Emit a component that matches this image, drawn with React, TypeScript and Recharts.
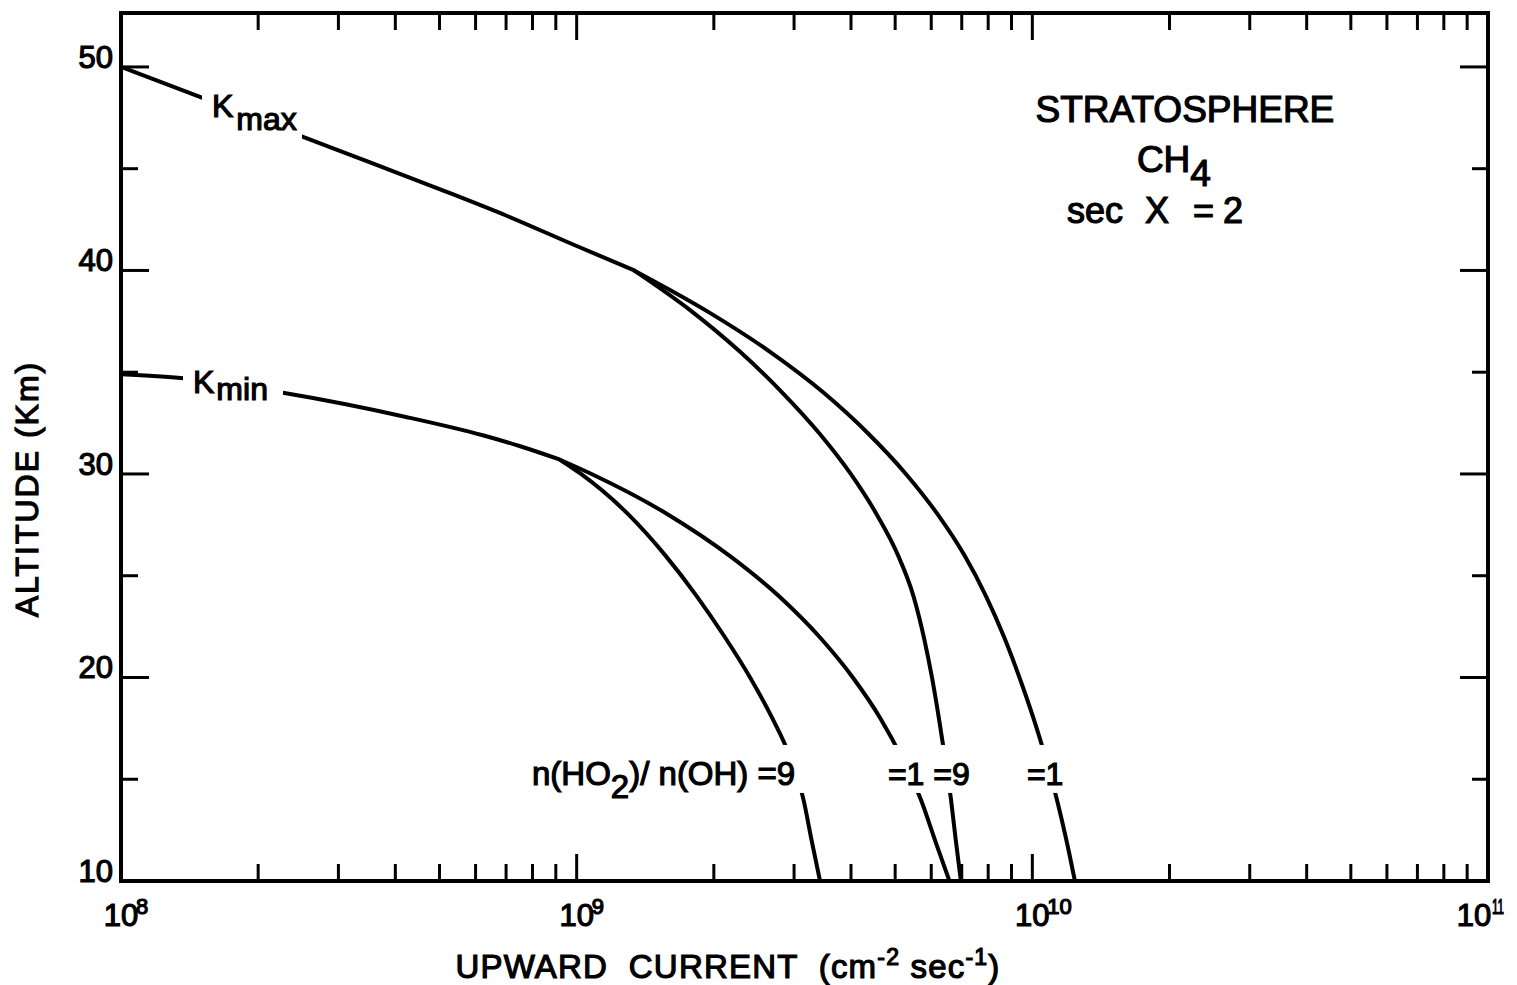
import { LineChart, Line, XAxis, YAxis, ReferenceDot, Label } from "recharts";

const FONT = '"Liberation Sans", Arial, sans-serif';

// upward current (cm^-2 sec^-1) against altitude (km)
const kmaxFlux = [1e8, 1.5e8, 2e8, 3e8, 5e8, 7e8, 1e9, 1.34e9];
const kmaxAlt = [50.0, 48.5, 47.4, 45.9, 44.0, 42.7, 41.2, 40.0];

// the two K_max branches, n(HO2)/n(OH) = 1 and = 9
const kmaxBranchAlt = [40, 38, 36, 34, 32, 30, 28, 26, 24, 22, 20, 18, 16, 14, 12, 10];
const kmaxR1Flux = [
  1.336e9, 1.932e9, 2.657e9, 3.48e9, 4.357e9, 5.279e9, 6.205e9, 7.096e9,
  7.911e9, 8.665e9, 9.37e9, 1.0056e10, 1.071e10, 1.132e10, 1.188e10, 1.24e10,
];
const kmaxR9Flux = [
  1.336e9, 1.785e9, 2.284e9, 2.826e9, 3.407e9, 3.995e9, 4.558e9, 5.074e9,
  5.484e9, 5.777e9, 6.022e9, 6.236e9, 6.438e9, 6.63e9, 6.792e9, 6.97e9,
];

const kminFlux = [1e8, 1.37e8, 2.25e8, 4.22e8, 6.22e8, 7.55e8, 9.2e8];
const kminAlt = [34.9, 34.7, 34.0, 32.8, 31.9, 31.35, 30.7];

// the two K_min branches
const kminBranchAlt = [30.7, 30, 28, 26, 24, 22, 20, 18, 16, 14, 12, 10];
const kminR1Flux = [9.19e8, 1.078e9, 1.589e9, 2.16e9, 2.777e9, 3.409e9, 4.037e9, 4.638e9, 5.188e9, 5.693e9, 6.116e9, 6.578e9];
const kminR9Flux = [9.19e8, 1.022e9, 1.3e9, 1.565e9, 1.834e9, 2.112e9, 2.402e9, 2.687e9, 2.951e9, 3.146e9, 3.278e9, 3.42e9];

const xTicks = [
  1e8, 2e8, 3e8, 4e8, 5e8, 6e8, 7e8, 8e8, 9e8,
  1e9, 2e9, 3e9, 4e9, 5e9, 6e9, 7e9, 8e9, 9e9,
  1e10, 2e10, 3e10, 4e10, 5e10, 6e10, 7e10, 8e10, 9e10,
  1e11,
];
const yTicks = [10, 15, 20, 25, 30, 35, 40, 45, 50];
const yLabelled = [10, 20, 30, 40, 50];

const zip = (xs: number[], ys: number[]) => xs.map((x, i) => ({ flux: x, alt: ys[i] }));

const curves = [
  { key: "kmax", data: zip(kmaxFlux, kmaxAlt) },
  { key: "kmax-r1", data: zip(kmaxR1Flux, kmaxBranchAlt) },
  { key: "kmax-r9", data: zip(kmaxR9Flux, kmaxBranchAlt) },
  { key: "kmin", data: zip(kminFlux, kminAlt) },
  { key: "kmin-r1", data: zip(kminR1Flux, kminBranchAlt) },
  { key: "kmin-r9", data: zip(kminR9Flux, kminBranchAlt) },
];

// ink-like lettering: a thin stroke thickens the glyphs
const ink = { fontFamily: FONT, fill: "#000", stroke: "#000", strokeWidth: 1.2, style: { whiteSpace: "pre" } } as const;

const isDecade = (v: number) => {
  const e = Math.log10(v);
  return Math.abs(e - Math.round(e)) < 1e-6;
};

function BottomTick({ x, y, payload }: any) {
  const v = payload.value;
  const major = isDecade(v);
  const exp = Math.round(Math.log10(v));
  // the last label sits against the page edge, pull it in a little
  const last = exp === 11;
  const lx = last ? x - 14 : x;
  return (
    <g>
      <line x1={x} x2={x} y1={y} y2={y - (major ? 27 : 17)} stroke="#000" strokeWidth={3} />
      {major && (
        <g {...ink}>
          <text x={lx} y={y + 45} fontSize={31} textAnchor="middle">10</text>
          <text
            x={lx + (last ? 18 : 15)}
            y={y + 33}
            fontSize={22}
            textLength={last ? 12 : undefined}
            lengthAdjust="spacingAndGlyphs"
          >
            {exp}
          </text>
        </g>
      )}
    </g>
  );
}

function TopTick({ x, y, payload }: any) {
  const major = isDecade(payload.value);
  return <line x1={x} x2={x} y1={y} y2={y + (major ? 27 : 17)} stroke="#000" strokeWidth={3} />;
}

function LeftTick({ x, y, payload }: any) {
  const v = payload.value;
  const major = v % 10 === 0;
  return (
    <g>
      <line x1={x} x2={x + (major ? 28 : 17)} y1={y} y2={y} stroke="#000" strokeWidth={3} />
      {yLabelled.includes(v) && (
        <text x={x - 8} y={y + 1} fontSize={31} textAnchor="end" {...ink}>
          {v}
        </text>
      )}
    </g>
  );
}

function RightTick({ x, y, payload }: any) {
  const major = payload.value % 10 === 0;
  return <line x1={x} x2={x - (major ? 28 : 16)} y1={y} y2={y} stroke="#000" strokeWidth={3} />;
}

function XTitle({ viewBox }: any) {
  const { x, y } = viewBox;
  return (
    <text x={x + 607} y={y + 97} fontSize={33} letterSpacing={1.2} textAnchor="middle" {...ink}>
      UPWARD  CURRENT  (cm<tspan fontSize={23} dy={-13}>-2</tspan>
      <tspan dy={13}> sec</tspan>
      <tspan fontSize={23} dy={-13}>-1</tspan>
      <tspan dy={13}>)</tspan>
    </text>
  );
}

function YTitle({ viewBox }: any) {
  const { x, y, width } = viewBox;
  const cx = x + width - 83;
  const cy = y + 476;
  return (
    <text
      x={cx}
      y={cy}
      transform={`rotate(-90 ${cx} ${cy})`}
      fontSize={32}
      letterSpacing={2}
      textAnchor="middle"
      {...ink}
    >
      ALTITUDE (Km)
    </text>
  );
}

// annotation anchors, in data coordinates
const notes = [
  { id: "kmaxLabel", flux: 1.584e8, alt: 47.54 },
  { id: "kminLabel", flux: 1.439e8, alt: 33.98 },
  { id: "ratio9", flux: 7.98e8, alt: 14.72 },
  { id: "ratio19", flux: 4.82e9, alt: 14.72 },
  { id: "ratio1", flux: 9.73e9, alt: 14.72 },
  { id: "strat", flux: 2.162e10, alt: 47.3 },
  { id: "ch4", flux: 1.696e10, alt: 44.84 },
  { id: "secx", flux: 1.191e10, alt: 42.33 },
];

function NoteShape({ cx, cy, id }: any) {
  switch (id) {
    case "kmaxLabel":
      return (
        <g>
          <rect x={cx - 10} y={cy - 29} width={100} height={55} fill="#fff" />
          <text x={cx} y={cy} fontSize={32} {...ink}>
            K<tspan dx={3} dy={13}>max</tspan>
          </text>
        </g>
      );
    case "kminLabel":
      return (
        <g>
          <rect x={cx - 10} y={cy - 28} width={100} height={38} fill="#fff" />
          <text x={cx} y={cy} fontSize={32} {...ink}>
            K<tspan dx={2} dy={7}>min</tspan>
          </text>
        </g>
      );
    case "ratio9":
      return (
        <g>
          <rect x={cx - 10} y={cy - 40} width={540} height={48} fill="#fff" />
          <text x={cx} y={cy} fontSize={33} {...ink}>
            n(HO<tspan dy={13}>2</tspan>
            <tspan dy={-13}>)/ n(OH) =9</tspan>
          </text>
        </g>
      );
    case "ratio19":
      return (
        <text x={cx} y={cy} fontSize={32} {...ink}>
          =1 =9
        </text>
      );
    case "ratio1":
      return (
        <text x={cx} y={cy} fontSize={32} {...ink}>
          =1
        </text>
      );
    case "strat":
      return (
        <text x={cx} y={cy} fontSize={37} textAnchor="middle" {...ink}>
          STRATOSPHERE
        </text>
      );
    case "ch4":
      return (
        <text x={cx} y={cy} fontSize={37} {...ink}>
          CH<tspan dy={14}>4</tspan>
        </text>
      );
    case "secx":
      return (
        <text x={cx} y={cy} fontSize={36} {...ink}>
          sec<tspan dx={22}>X</tspan>
          <tspan dx={24}>=</tspan>
          <tspan dx={9}>2</tspan>
        </text>
      );
    default:
      return null;
  }
}

const axisLine = { stroke: "#000", strokeWidth: 4, strokeLinecap: "square" };

export default function App() {
  return (
    <div style={{ position: "absolute", left: 0, top: 0, width: 1517, height: 985, background: "#fff" }}>
      <LineChart width={1517} height={985} margin={{ top: 12, right: 28, bottom: 74, left: 61 }}>
        <XAxis
          dataKey="flux"
          type="number"
          scale="log"
          domain={[1e8, 1e11]}
          allowDataOverflow
          ticks={xTicks}
          interval={0}
          height={30}
          tickSize={0}
          tickMargin={0}
          tickLine={false}
          tick={BottomTick}
          axisLine={axisLine}
        >
          <Label content={XTitle} />
        </XAxis>
        <XAxis
          xAxisId="top"
          orientation="top"
          dataKey="flux"
          type="number"
          scale="log"
          domain={[1e8, 1e11]}
          allowDataOverflow
          ticks={xTicks}
          interval={0}
          height={1}
          tickSize={0}
          tickMargin={0}
          tickLine={false}
          tick={TopTick}
          axisLine={axisLine}
        />
        <YAxis
          type="number"
          domain={[10, 52.65]}
          allowDataOverflow
          ticks={yTicks}
          interval={0}
          width={60}
          tickSize={0}
          tickMargin={0}
          tickLine={false}
          tick={LeftTick}
          axisLine={axisLine}
        >
          <Label content={YTitle} />
        </YAxis>
        <YAxis
          yAxisId="right"
          orientation="right"
          type="number"
          domain={[10, 52.65]}
          allowDataOverflow
          ticks={yTicks}
          interval={0}
          width={1}
          tickSize={0}
          tickMargin={0}
          tickLine={false}
          tick={RightTick}
          axisLine={axisLine}
        />
        {curves.map((c) => (
          <Line
            key={c.key}
            data={c.data}
            dataKey="alt"
            type="monotone"
            stroke="#000"
            strokeWidth={4}
            dot={false}
            activeDot={false}
            isAnimationActive={false}
          />
        ))}
        {notes.map((n) => (
          <ReferenceDot
            key={n.id}
            x={n.flux}
            y={n.alt}
            r={0}
            ifOverflow="visible"
            shape={(p: any) => <NoteShape cx={p.cx} cy={p.cy} id={n.id} />}
          />
        ))}
      </LineChart>
    </div>
  );
}
